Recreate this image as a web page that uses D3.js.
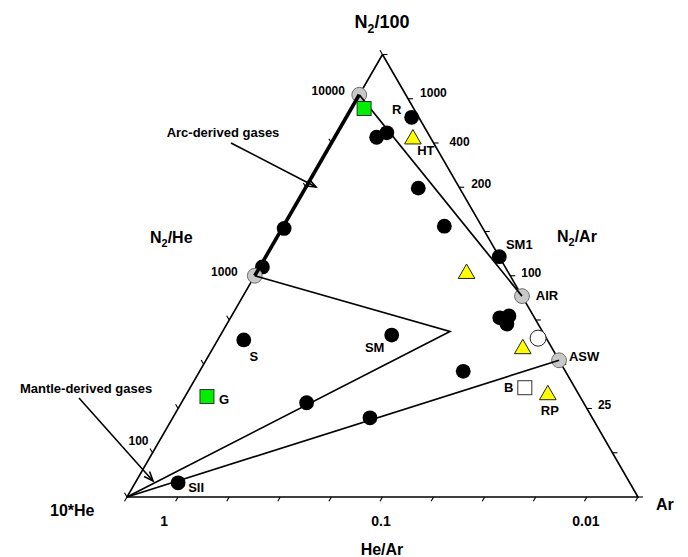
<!DOCTYPE html>
<html>
<head>
<meta charset="utf-8">
<script src="https://cdn.jsdelivr.net/npm/d3@7"></script>
<style>
  html, body { margin: 0; padding: 0; background: #fff; }
  svg { display: block; font-family: "Liberation Sans", Arial, sans-serif; font-weight: bold; }
</style>
</head>
<body>
<svg id="chart" width="688" height="557"></svg>
<script>
// Compositions in percent of (N2/100, 10*He, Ar)
const referencePoints = [
  { label: "",    n2: 90.9, he: 9.1,  ar: 0 },     // N2/He = 10000
  { label: "",    n2: 50.0, he: 50.0, ar: 0 },     // N2/He = 1000
  { label: "AIR", n2: 45.4, he: 0,    ar: 54.6 },
  { label: "ASW", n2: 30.9, he: 0,    ar: 69.1 }
];
const circleSamples = [
  { label: "R",   n2: 85.8, he: 1.4,  ar: 12.8 },
  { label: "",    n2: 81.3, he: 10.5, ar: 8.2 },
  { label: "",    n2: 82.3, he: 8.0,  ar: 9.7 },
  { label: "",    n2: 69.8, he: 8.1,  ar: 22.1 },
  { label: "",    n2: 61.2, he: 7.3,  ar: 31.5 },
  { label: "SM1", n2: 54.3, he: 0,    ar: 45.7 },
  { label: "",    n2: 40.5, he: 6.8,  ar: 52.7 },
  { label: "",    n2: 40.9, he: 4.8,  ar: 54.3 },
  { label: "",    n2: 39.1, he: 6.1,  ar: 54.8 },
  { label: "",    n2: 28.4, he: 20.0, ar: 51.6 },
  { label: "SM",  n2: 36.6, he: 29.9, ar: 33.5 },
  { label: "S",   n2: 35.5, he: 59.4, ar: 5.1 },
  { label: "",    n2: 21.3, he: 54.2, ar: 24.5 },
  { label: "",    n2: 17.9, he: 43.5, ar: 38.6 },
  { label: "SII", n2: 3.2,  he: 88.4, ar: 8.4 },
  { label: "",    n2: 60.7, he: 38.9, ar: 0.4 },
  { label: "",    n2: 52.0, he: 47.5, ar: 0.5 }
];
const triangleSamples = [
  { label: "HT", n2: 81.1, he: 3.5, ar: 15.4 },
  { label: "",   n2: 50.7, he: 8.2, ar: 41.1 },
  { label: "",   n2: 33.7, he: 5.7, ar: 60.6 },
  { label: "RP", n2: 23.3, he: 6.0, ar: 70.7 }
];
const greenSquareSamples = [
  { label: "",  n2: 87.8, he: 9.7,  ar: 2.5 },
  { label: "G", n2: 22.7, he: 73.0, ar: 4.3 }
];
const openSquareSamples = [ { label: "B", n2: 24.7, he: 9.8, ar: 65.5 } ];
const openCircleSamples = [ { label: "",  n2: 35.9, he: 1.6, ar: 62.5 } ];
const wedgeApex = { n2: 37.4, he: 18.1, ar: 44.5 };
const heCorner  = { n2: 0, he: 100, ar: 0 };

// Ratio values written along the edges
const n2HeTickLabels = [10000, 1000, 100];
const n2ArTickLabels = [1000, 400, 200, 100, 25];
const heArTickLabels = [1, 0.1, 0.01];

// ---------- layout ----------
const svg = d3.select("#chart");
const SQ3 = Math.sqrt(3) / 2;
const x = d3.scaleLinear().domain([0, 1]).range([127, 638]);
const y = d3.scaleLinear().domain([0, SQ3]).range([497, 54.5]);

function toXY(p) {
  const s = p.n2 + p.he + p.ar;
  const a = p.n2 / s, r = p.ar / s;
  return [x(r + a / 2), y(a * SQ3)];
}
const line = d3.line().x(d => toXY(d)[0]).y(d => toXY(d)[1]);

const apexN2 = { n2: 1, he: 0, ar: 0 }, cornerHe = { n2: 0, he: 1, ar: 0 }, cornerAr = { n2: 0, he: 0, ar: 1 };

// triangle frame
svg.append("path")
  .attr("d", line([apexN2, cornerAr, cornerHe, apexN2]))
  .attr("fill", "none").attr("stroke", "#000").attr("stroke-width", 1.6)
  .attr("stroke-linejoin", "miter");

// graticule ticks every 10 % along each edge
const steps = d3.range(0, 1.0001, 0.1);
const edgeDefs = [
  { pt: t => ({ n2: 1 - t, he: t, ar: 0 }), dir: [-0.5, -0.866] },   // left edge, from apex
  { pt: t => ({ n2: 1 - t, he: 0, ar: t }), dir: [1, 0] },           // right edge, from apex
  { pt: t => ({ n2: 0, he: 1 - t, ar: t }), dir: [-0.5, 0.866] }     // bottom edge, from left
];
edgeDefs.forEach(e => {
  svg.append("g").selectAll("line").data(steps).join("line")
    .attr("x1", t => toXY(e.pt(t))[0])
    .attr("y1", t => toXY(e.pt(t))[1])
    .attr("x2", t => toXY(e.pt(t))[0] + 5 * e.dir[0])
    .attr("y2", t => toXY(e.pt(t))[1] + 5 * e.dir[1])
    .attr("stroke", "#000").attr("stroke-width", 1.1);
});

// ratio labels sit on the nearest graticule tick
const snap = t => Math.round(t * 10) / 10;
const leftT   = v => { const k = v / 1000; return snap(1 - k / (1 + k)); };
const rightT  = v => { const k = v / 100;  return snap(1 - k / (1 + k)); };
const bottomT = v => snap(1 / (1 + 10 * v));

const leftNudge   = { 10000: [-12, -8], 1000: [-17, -4], 100: [-4, -12] };
const rightNudge  = { 1000: [12, -6], 400: [16, -1], 200: [12, -3], 100: [11, -3], 25: [11, -4] };
const bottomNudge = { 1: [-14, 24], 0.1: [-1.5, 24], 0.01: [-1, 24] };

svg.append("g").selectAll("text").data(n2HeTickLabels).join("text")
  .attr("x", v => toXY(edgeDefs[0].pt(leftT(v)))[0] + leftNudge[v][0])
  .attr("y", v => toXY(edgeDefs[0].pt(leftT(v)))[1] + leftNudge[v][1])
  .attr("text-anchor", "end").attr("dominant-baseline", "central")
  .attr("font-size", 12).text(v => v);

svg.append("g").selectAll("text").data(n2ArTickLabels).join("text")
  .attr("x", v => toXY(edgeDefs[1].pt(rightT(v)))[0] + rightNudge[v][0])
  .attr("y", v => toXY(edgeDefs[1].pt(rightT(v)))[1] + rightNudge[v][1])
  .attr("text-anchor", "start").attr("dominant-baseline", "central")
  .attr("font-size", 12).text(v => v);

svg.append("g").selectAll("text").data(heArTickLabels).join("text")
  .attr("x", v => toXY(edgeDefs[2].pt(bottomT(v)))[0] + bottomNudge[v][0])
  .attr("y", v => toXY(edgeDefs[2].pt(bottomT(v)))[1] + bottomNudge[v][1])
  .attr("text-anchor", "middle").attr("dominant-baseline", "central")
  .attr("font-size", 14).text(v => v);

// axis titles
function subTitle(tx, ty, anchor, size, parts) {
  const t = svg.append("text").attr("x", tx).attr("y", ty)
    .attr("text-anchor", anchor).attr("font-size", size);
  t.append("tspan").text(parts[0]);
  t.append("tspan").attr("font-size", size * 0.68).attr("dy", size * 0.28).text(parts[1]);
  t.append("tspan").attr("dy", -size * 0.28).text(parts[2]);
}
subTitle(382, 28, "middle", 18, ["N", "2", "/100"]);
subTitle(150, 243, "start", 16, ["N", "2", "/He"]);
subTitle(557, 242, "start", 16, ["N", "2", "/Ar"]);
svg.append("text").attr("x", 50).attr("y", 516).attr("font-size", 16).text("10*He");
svg.append("text").attr("x", 656).attr("y", 510).attr("font-size", 16).text("Ar");
svg.append("text").attr("x", 382).attr("y", 555).attr("text-anchor", "middle").attr("font-size", 16).text("He/Ar");

// markers: sample circles first, reference circles on top
const R = 7.4;
svg.append("g").selectAll("circle").data(circleSamples).join("circle")
  .attr("cx", d => toXY(d)[0]).attr("cy", d => toXY(d)[1])
  .attr("r", R).attr("fill", "#000");

svg.append("g").selectAll("circle").data(referencePoints).join("circle")
  .attr("cx", d => toXY(d)[0]).attr("cy", d => toXY(d)[1])
  .attr("r", R).attr("fill", "#c8c8c8").attr("stroke", "#6e6e6e").attr("stroke-width", 1);

// mixing lines
svg.append("path").attr("d", line([referencePoints[0], referencePoints[1]]))
  .attr("fill", "none").attr("stroke", "#000").attr("stroke-width", 3.6).attr("stroke-linecap", "butt");
[
  [referencePoints[0], referencePoints[2]],
  [referencePoints[1], wedgeApex, heCorner],
  [heCorner, referencePoints[3]]
].forEach(seg => {
  svg.append("path").attr("d", line(seg))
    .attr("fill", "none").attr("stroke", "#000").attr("stroke-width", 1.7).attr("stroke-linejoin", "miter");
});

// remaining symbols
svg.append("g").selectAll("rect").data(greenSquareSamples).join("rect")
  .attr("x", d => toXY(d)[0] - 7).attr("y", d => toXY(d)[1] - 7)
  .attr("width", 14).attr("height", 14)
  .attr("fill", "#00ee00").attr("stroke", "#333").attr("stroke-width", 1);

svg.append("g").selectAll("rect").data(openSquareSamples).join("rect")
  .attr("x", d => toXY(d)[0] - 7).attr("y", d => toXY(d)[1] - 7)
  .attr("width", 14).attr("height", 14)
  .attr("fill", "#fff").attr("stroke", "#333").attr("stroke-width", 1);

svg.append("g").selectAll("circle").data(openCircleSamples).join("circle")
  .attr("cx", d => toXY(d)[0]).attr("cy", d => toXY(d)[1])
  .attr("r", 8).attr("fill", "#fff").attr("stroke", "#222").attr("stroke-width", 1);

const tri = d3.symbol().type(d3.symbolTriangle).size(120);
svg.append("g").selectAll("path").data(triangleSamples).join("path")
  .attr("transform", d => `translate(${toXY(d)[0]},${toXY(d)[1] + 1})`)
  .attr("d", tri)
  .attr("fill", "#ffff00").attr("stroke", "#222").attr("stroke-width", 1);

// point labels
const labelOffsets = {
  R: [-15, -8], HT: [13, 12], SM1: [20, -12], AIR: [25, -1], ASW: [25, -4],
  B: [-16, 0], RP: [2, 17], SM: [-17, 12], S: [10, 17], G: [17, 3], SII: [18, 5]
};
const labelled = [].concat(referencePoints, circleSamples, triangleSamples,
  greenSquareSamples, openSquareSamples, openCircleSamples).filter(d => d.label);
svg.append("g").selectAll("text").data(labelled).join("text")
  .attr("x", d => toXY(d)[0] + labelOffsets[d.label][0])
  .attr("y", d => toXY(d)[1] + labelOffsets[d.label][1])
  .attr("text-anchor", "middle").attr("dominant-baseline", "central")
  .attr("font-size", 13).text(d => d.label);

// annotations with open arrowheads
function arrow(x1, y1, x2, y2) {
  const g = svg.append("g").attr("stroke", "#000").attr("stroke-width", 1.6).attr("fill", "none");
  g.append("line").attr("x1", x1).attr("y1", y1).attr("x2", x2).attr("y2", y2);
  const ang = Math.atan2(y2 - y1, x2 - x1), L = 10, spread = 0.38;
  g.append("path").attr("d",
    `M${x2 - L * Math.cos(ang - spread)},${y2 - L * Math.sin(ang - spread)}L${x2},${y2}` +
    `L${x2 - L * Math.cos(ang + spread)},${y2 - L * Math.sin(ang + spread)}`);
}
svg.append("text").attr("x", 223).attr("y", 137).attr("text-anchor", "middle")
  .attr("font-size", 13).text("Arc-derived gases");
arrow(231, 143, 316, 187);
svg.append("text").attr("x", 86).attr("y", 393).attr("text-anchor", "middle")
  .attr("font-size", 13).text("Mantle-derived gases");
arrow(79, 398, 153, 481);
</script>
</body>
</html>
